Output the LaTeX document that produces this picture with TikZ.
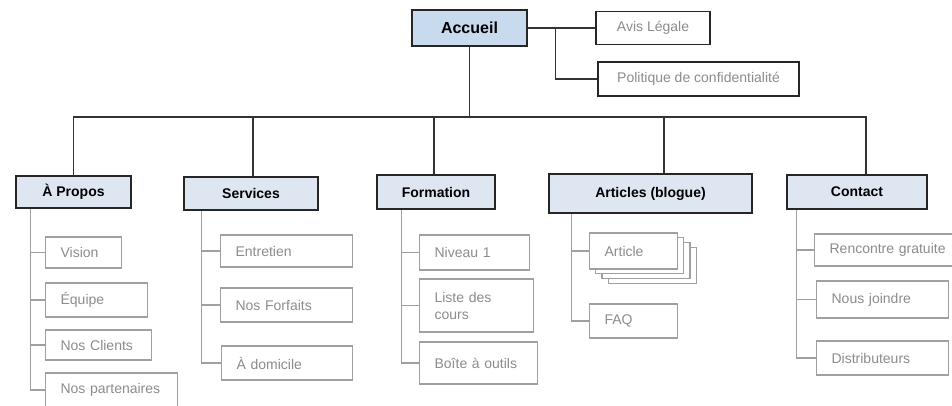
\documentclass[tikz,border=0pt]{standalone}
\usepackage{fontspec}
\setmainfont{Liberation Sans}
\usepackage{tikz}
\usetikzlibrary{calc}
\definecolor{headblue}{HTML}{DDE6F1}
\definecolor{rootblue}{HTML}{C8DAEE}
\definecolor{leafgray}{HTML}{A0A0A0}
\definecolor{textgray}{HTML}{8C8C8C}
\tikzset{block/.style={draw=black!85, line width=1.5pt, fill=headblue, text centered, font=\bfseries\fontsize{14}{17}\selectfont}}
\tikzset{note/.style={draw=black!85, line width=1.5pt, fill=white, text=textgray, text centered, font=\fontsize{14}{17}\selectfont}}
\tikzset{leaf/.style={draw=leafgray, line width=1.2pt, fill=white, text=textgray, anchor=west, align=left, inner xsep=15pt, font=\fontsize{14}{17}\selectfont}}
\tikzset{connect/.style={draw=black!80, line width=1.3pt}}
\tikzset{sub/.style={draw=leafgray, line width=1.2pt}}

\begin{document}
\begin{tikzpicture}[x=1pt,y=-1pt]
\useasboundingbox (0,0) rectangle (952,405);
% top
\node[block,fill=rootblue,minimum width=115pt,minimum height=36pt,font=\bfseries\fontsize{16}{19}\selectfont] (accueil) at (469.5,28) {Accueil};
\node[note,minimum width=114pt,minimum height=33pt] (avis) at (653,28) {Avis Légale};
\node[note,minimum width=201pt,minimum height=34pt] (politique) at (698.5,79) {Politique de confidentialité};
\path[connect] (accueil.east) -- (avis.west);
\path[connect] ([xshift=28pt]accueil.east) |- (politique.west);

% sections
\coordinate (bus) at (470,117);
\node[block,minimum width=115pt,minimum height=32pt] (apropos) at (73.5,192) {À Propos};
\node[block,minimum width=134pt,minimum height=33pt] (services) at (251,193.5) {Services};
\node[block,minimum width=118pt,minimum height=34pt] (formation) at (436,192) {Formation};
\node[block,minimum width=203pt,minimum height=39pt] (articles) at (650.5,193.5) {Articles (blogue)};
\node[block,minimum width=140pt,minimum height=34pt] (contact) at (857,192) {Contact};
\path[connect] (accueil.south) -- (accueil.south |- bus);
\path[connect] (apropos.north) |- ([xshift=9pt]contact.north |- bus) -- ([xshift=9pt]contact.north);
\path[connect] ([xshift=2pt]services.north) -- ([xshift=2pt]services.north |- bus);
\path[connect] ([xshift=-2pt]formation.north) -- ([xshift=-2pt]formation.north |- bus);
\path[connect] ([xshift=13.5pt]articles.north) -- ([xshift=13.5pt]articles.north |- bus);

% A propos
\node[leaf,text width=46pt,minimum height=31pt] (vision) at (45,252.5) {Vision};
\node[leaf,text width=72pt,minimum height=34pt] (equipe) at (45,300) {Équipe};
\node[leaf,text width=76pt,minimum height=30pt] (clients) at (45,345) {Nos Clients};
\node[leaf,text width=102pt,minimum height=34pt] (partenaires) at (45,390) {Nos partenaires};
\path[sub] ([xshift=15pt]apropos.south west) |- (partenaires.west);
\path[sub] ([xshift=15pt]apropos.south west |- vision.west) -- (vision.west);
\path[sub] ([xshift=15pt]apropos.south west |- equipe.west) -- (equipe.west);
\path[sub] ([xshift=15pt]apropos.south west |- clients.west) -- (clients.west);

% Services
\node[leaf,text width=102pt,minimum height=32pt] (entretien) at (220,251) {Entretien};
\node[leaf,text width=102pt,minimum height=34pt] (forfaits) at (220,305) {Nos Forfaits};
\node[leaf,text width=101pt,minimum height=34pt] (domicile) at (221,363) {À domicile};
\path[sub] ([xshift=18pt]services.south west) |- (domicile.west);
\path[sub] ([xshift=18pt]services.south west |- entretien.west) -- (entretien.west);
\path[sub] ([xshift=18pt]services.south west |- forfaits.west) -- (forfaits.west);

% Formation
\node[leaf,text width=80pt,minimum height=35pt] (niveau) at (419,252.5) {Niveau 1};
\node[leaf,text width=84pt,minimum height=53pt] (cours) at (419,305.5) {Liste des\\cours};
\node[leaf,text width=88pt,minimum height=42pt] (outils) at (419,363) {Boîte à outils};
\path[sub] ([xshift=25pt]formation.south west) |- (outils.west);
\path[sub] ([xshift=25pt]formation.south west |- niveau.west) -- (niveau.west);
\path[sub] ([xshift=25pt]formation.south west |- cours.west) -- (cours.west);

% Articles
\foreach \i in {3,2,1}
  \draw[sub,fill=white] (589+6.5*\i,233+4.8*\i) rectangle +(88,36);
\node[leaf,text width=58pt,minimum height=36pt] (article) at (589,251) {Article};
\node[leaf,text width=58pt,minimum height=34pt] (faq) at (589,321) {FAQ};
\path[sub] ([xshift=23pt]articles.south west) |- (faq.west);
\path[sub] ([xshift=23pt]articles.south west |- article.west) -- (article.west);

% Contact
\node[leaf,text width=120pt,minimum height=32pt] (rencontre) at (814,250) {Rencontre gratuite};
\node[leaf,text width=102pt,minimum height=37pt] (joindre) at (816,299.5) {Nous joindre};
\node[leaf,text width=102pt,minimum height=34pt] (distributeurs) at (816,358) {Distributeurs};
\path[sub] ([xshift=10pt]contact.south west) |- (distributeurs.west);
\path[sub] ([xshift=10pt]contact.south west |- rencontre.west) -- (rencontre.west);
\path[sub] ([xshift=10pt]contact.south west |- joindre.west) -- (joindre.west);
\end{tikzpicture}
\end{document}
